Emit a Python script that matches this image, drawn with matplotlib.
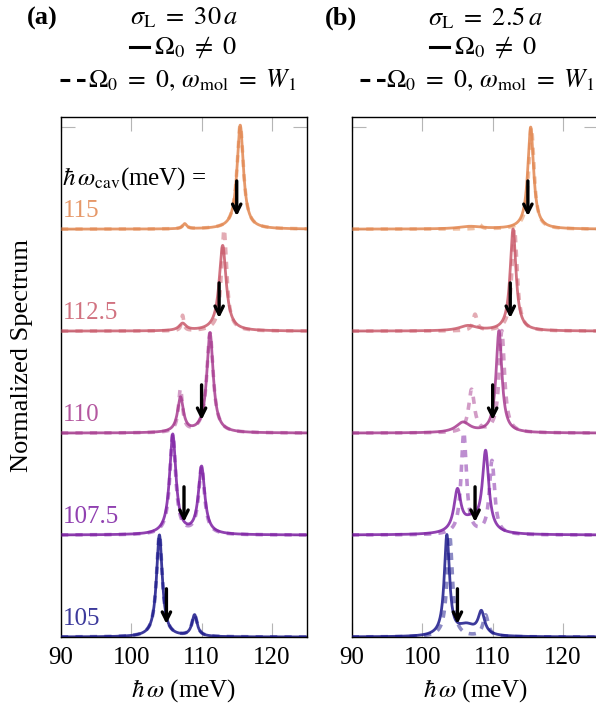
import numpy as np
import matplotlib
matplotlib.use("Agg")
import matplotlib.pyplot as plt
from matplotlib.lines import Line2D

plt.rcParams['font.family'] = ['Liberation Serif', 'DejaVu Serif']
plt.rcParams['mathtext.fontset'] = 'stix'

# cavity energies (meV), bottom to top
w_cav = [105, 107.5, 110, 112.5, 115]
cav_labels = ["105", "107.5", "110", "112.5", "115"]
colors = ['#1a178a', '#7d1fa3', '#a73b8f', '#c9596a', '#e2864f']

# peaks: (centre meV, height, half width meV)
a_solid = [
    [(104.0, 1.0, 0.5), (109.0, 0.21, 0.45)],
    [(105.9, 0.98, 0.55), (110.0, 0.66, 0.55)],
    [(111.2, 0.98, 0.55), (107.0, 0.34, 0.5)],
    [(113.0, 0.84, 0.6), (107.3, 0.07, 0.6)],
    [(115.5, 1.02, 0.55), (107.6, 0.05, 0.35)],
]
a_dashed = [
    [(104.0, 1.0, 0.5), (109.0, 0.21, 0.45)],
    [(105.9, 0.98, 0.5), (110.0, 0.66, 0.5)],
    [(111.2, 0.98, 0.55), (107.0, 0.42, 0.35)],
    [(113.2, 1.0, 0.45), (107.3, 0.15, 0.2)],
    [(115.5, 1.02, 0.55), (107.6, 0.05, 0.35)],
]
b_solid = [
    [(103.5, 0.98, 0.45), (108.4, 0.22, 0.55), (106.3, 0.1, 1.5)],
    [(105.0, 0.4, 0.6), (109.0, 0.78, 0.55), (107.0, 0.12, 1.5)],
    [(110.9, 1.0, 0.5), (105.8, 0.1, 1.2)],
    [(112.9, 1.0, 0.5), (106.5, 0.05, 1.5)],
    [(115.4, 1.0, 0.5), (106.8, 0.025, 2.0)],
]
b_dashed = [
    [(103.9, 1.0, 0.45), (109.0, 0.21, 0.45)],
    [(105.9, 1.0, 0.45), (109.9, 0.72, 0.45)],
    [(111.3, 1.0, 0.45), (107.0, 0.42, 0.5)],
    [(113.1, 1.0, 0.45), (107.5, 0.16, 0.35)],
    [(115.5, 1.0, 0.45), (108.2, 0.04, 0.3)],
]

x = np.linspace(90, 125, 2000)


def spectrum(peaks):
    y = np.zeros_like(x)
    for c, h, g in peaks:
        y += h * g**2 / ((x - c)**2 + g**2)
    return y


fig = plt.figure(figsize=(5.96, 7.11), dpi=100)
W, H = 596, 711
ax_a = fig.add_axes([61 / W, (H - 637) / H, 246 / W, 520 / H])
ax_b = fig.add_axes([351.8 / W, (H - 637) / H, 246.5 / W, 520 / H])

for ax, sol, das in [(ax_a, a_solid, a_dashed), (ax_b, b_solid, b_dashed)]:
    for i in range(5):
        ax.plot(x, i + spectrum(sol[i]), color=colors[i], lw=2.0, alpha=0.85, zorder=2)
        ax.plot(x, i + spectrum(das[i]), color=colors[i], lw=2.6, alpha=0.5,
                dashes=(2, 2), zorder=3)
        ax.annotate("", xy=(w_cav[i], i + 0.1), xytext=(w_cav[i], i + 0.5),
                    arrowprops=dict(arrowstyle='->', color='black', lw=2.4,
                                    mutation_scale=15), zorder=5)
    ax.set_xlim(90, 125)
    ax.set_ylim(0, 5.1)
    ax.set_xticks([90, 100, 110, 120])
    ax.set_yticks(range(6))
    ax.set_yticklabels([])
    ax.tick_params(direction='in', length=10, color='#b5b5b5', top=True, right=True,
                   labelsize=18, pad=7)
    ax.set_xlabel(r'$\hbar\,\omega$ (meV)', fontsize=18, labelpad=6)
    for s in ax.spines.values():
        s.set_linewidth(1.0)

for i in range(5):
    ax_a.text(90.3, i + 0.18, cav_labels[i], color=colors[i], fontsize=18,
              ha='left', va='center', alpha=0.85)
ax_a.text(90.1, 4.5, r'$\hbar\,\omega_{\rm cav}$(meV) =', fontsize=18,
          ha='left', va='center')

fig.text(22 / W, 1 - 356 / H, 'Normalized Spectrum', rotation=90, fontsize=19,
         ha='center', va='center')


def ftext(px, py, s, size=19, **kw):
    fig.text(px / W, 1 - py / H, s, fontsize=size, ha='left', va='center', **kw)


def fline(x0, x1, py, **kw):
    fig.add_artist(Line2D([x0 / W, x1 / W], [1 - py / H, 1 - py / H], color='black',
                          lw=2.2, transform=fig.transFigure, **kw))


row3 = r'$\Omega_0\ =\ 0,\,\omega_{\rm mol}\ =\ W_1$'

# panel headers
ftext(27, 18, '(a)', fontweight='bold')
ftext(130, 18, r'$\sigma_{\rm L}\ =\ 30\,a$')
fline(130, 149, 47)
ftext(154, 47, r'$\Omega_0\ \neq\ 0$')
fline(60, 85, 80, dashes=(3.2, 2.2))
ftext(88, 80, row3, size=18.5)

ftext(325, 18, '(b)', fontweight='bold')
ftext(428, 18, r'$\sigma_{\rm L}\ =\ 2.5\,a$')
fline(430, 449, 47)
ftext(454, 47, r'$\Omega_0\ \neq\ 0$')
fline(360, 385, 80, dashes=(3.2, 2.2))
ftext(386, 80, row3, size=18.5)

fig.savefig("out.png", dpi=100)
